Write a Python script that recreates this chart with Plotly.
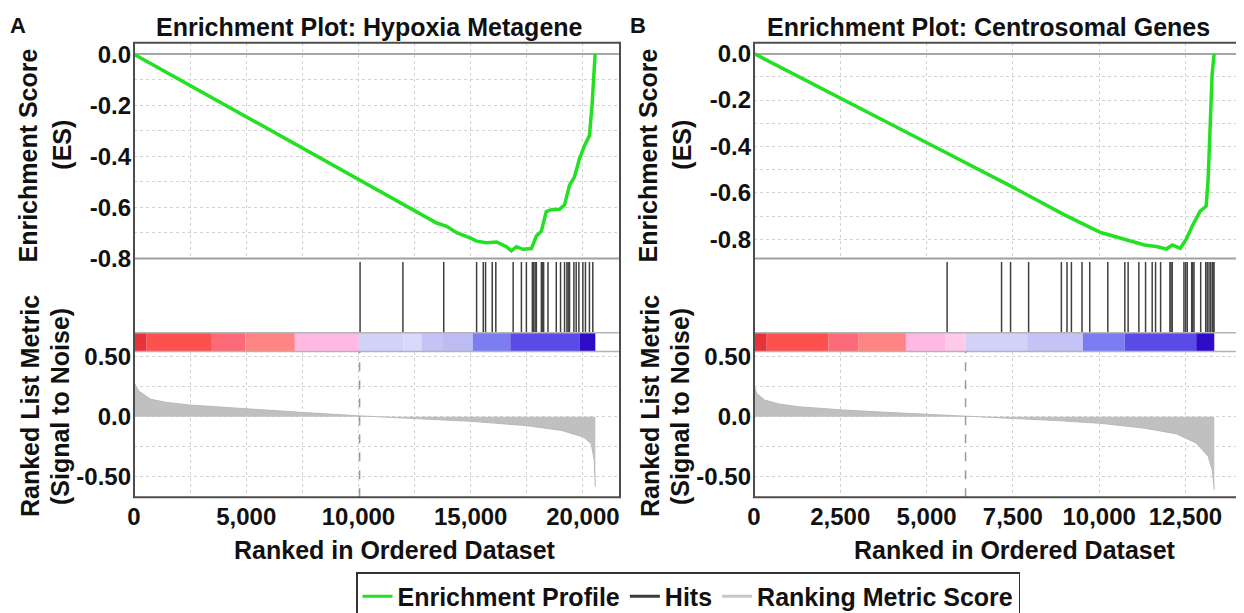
import plotly.graph_objects as go

W, H = 1244, 613

# ---------------- Data: panel A (Hypoxia Metagene) ----------------
es_rank_A = [0, 5000, 10000, 12000, 13487, 13931, 14374, 14966, 15262, 15706, 16149, 16593,
             16815, 17036, 17334, 17702, 17924, 18146, 18367, 18589, 18958, 19180, 19401,
             19623, 19845, 20067, 20288, 20408, 20466, 20541]
es_val_A = [0.0, -0.245, -0.49, -0.588, -0.661, -0.674, -0.699, -0.719, -0.732, -0.738, -0.735,
            -0.754, -0.770, -0.754, -0.764, -0.761, -0.712, -0.693, -0.616, -0.609, -0.607,
            -0.590, -0.513, -0.480, -0.410, -0.358, -0.319, -0.197, -0.081, 0.0]
hits_A = [10071, 11979, 13798, 15262, 15559, 15661, 15958, 16118, 16890, 17258, 17480, 17746,
          17804, 17870, 17924, 18146, 18200, 18248, 18443, 18811, 19002, 19180, 19286, 19340,
          19401, 19596, 19698, 19818, 19996, 20111, 20288, 20439]
metric_rank_A = [0, 211, 739, 1444, 2500, 4965, 7430, 9894, 12535, 15000, 17465, 19049, 20018,
                 20370, 20500, 20550]
metric_val_A = [0.285, 0.215, 0.146, 0.119, 0.097, 0.064, 0.036, 0.008, -0.019, -0.039, -0.075,
                -0.116, -0.171, -0.227, -0.365, -0.586]
bar_edges_A = [0, 563, 3468, 4965, 7165, 10018, 12007, 12799, 13768, 15088, 16761, 19842, 20550]
bar_colors_A = ['#e8323c', '#ff5050', '#ff6a78', '#ff8484', '#ffb9e2', '#d2d2f9', '#d9d9fb',
                '#c3c3f6', '#bcbcf3', '#7d7df2', '#5a4ae8', '#2c0cc8']
zero_cross_A = 10050

# ---------------- Data: panel B (Centrosomal Genes) ----------------
es_rank_B = [0, 2500, 5035, 7512, 9009, 10046, 11313, 11659, 11947, 12120, 12350, 12523, 12696,
             12926, 13099, 13157, 13214, 13272, 13330]
es_val_B = [0.0, -0.19, -0.386, -0.576, -0.695, -0.770, -0.824, -0.830, -0.841, -0.824, -0.838,
            -0.799, -0.742, -0.678, -0.657, -0.541, -0.303, -0.091, 0.0]
hits_B = [5595, 7172, 7433, 7956, 8905, 9068, 9196, 9503, 9727, 10250, 10743, 10839, 11150, 11344,
          11536, 11634, 11780, 12050, 12080, 12117, 12456, 12505, 12552, 12680, 12710, 12747,
          12941, 13087, 13130, 13182, 13230, 13278, 13300, 13328]
metric_rank_B = [0, 81, 311, 714, 1290, 2558, 3825, 5035, 6129, 7512, 8779, 10046, 11313, 12235,
                 12811, 13157, 13272, 13335]
metric_val_B = [0.264, 0.194, 0.139, 0.106, 0.083, 0.056, 0.036, 0.019, 0.003, -0.014, -0.033,
                -0.056, -0.097, -0.144, -0.222, -0.333, -0.444, -0.611]
bar_edges_B = [0, 369, 2154, 3018, 4401, 5553, 6129, 7915, 9528, 10737, 12811, 13335]
bar_colors_B = ['#e8323c', '#ff5050', '#ff6a78', '#ff8484', '#ffb9e2', '#ffc9ea', '#d2d2f9',
                '#c3c3f6', '#7b7bf2', '#5a4ae8', '#2c0cc8']
zero_cross_B = 6129

# ---------------- Axis labels ----------------
es_ticks = [0.0, -0.2, -0.4, -0.6, -0.8]
es_ticktext = ['0.0', '-0.2', '-0.4', '-0.6', '-0.8']
metric_ticks = [0.5, 0.0, -0.5]
metric_ticktext = ['0.50', '0.0', '-0.50']
x_ticks_A = [0, 5000, 10000, 15000, 20000]
x_ticktext_A = ['0', '5,000', '10,000', '15,000', '20,000']
x_ticks_B = [0, 2500, 5000, 7500, 10000, 12500]
x_ticktext_B = ['0', '2,500', '5,000', '7,500', '10,000', '12,500']
titles = ['Enrichment Plot: Hypoxia Metagene', 'Enrichment Plot: Centrosomal Genes']
panel_letters = ['A', 'B']

GREEN = '#22e022'
HITC = '#404040'
GRID = '#d2d2d2'
FONT = 'Liberation Sans, Arial, sans-serif'
TXT = '#111111'


def py(p):
    return 1 - p / H


def px(p):
    return p / W


# layout geometry (pixels)
panel_left = [126, 746]
panel_right = [612, 1232]
ES_TOP, ES_BOT = 35, 253
HIT_BOT = 328
CB_BOT = 347
MET_BOT = 494

fig = go.Figure()
layout = dict(
    width=W, height=H,
    margin=dict(l=0, r=0, t=0, b=0),
    paper_bgcolor='white', plot_bgcolor='white',
    font=dict(family=FONT, color=TXT),
    showlegend=True,
    shapes=[], annotations=[],
)

panels = [
    dict(es_r=es_rank_A, es_v=es_val_A, hits=hits_A, mr=metric_rank_A, mv=metric_val_A,
         edges=bar_edges_A, colors=bar_colors_A, cross=zero_cross_A, xmax=21650, esmin=-0.8,
         esmax=0.045, xt=x_ticks_A, xtt=x_ticktext_A, minor=2500),
    dict(es_r=es_rank_B, es_v=es_val_B, hits=hits_B, mr=metric_rank_B, mv=metric_val_B,
         edges=bar_edges_B, colors=bar_colors_B, cross=zero_cross_B, xmax=14080, esmin=-0.882,
         esmax=0.047, xt=x_ticks_B, xtt=x_ticktext_B, minor=2500),
]

for i, p in enumerate(panels):
    base = i * 4
    n_es, n_hit, n_cb, n_met = base + 1, base + 2, base + 3, base + 4
    xdom = [px(panel_left[i]), px(panel_right[i])]
    ydoms = {
        n_es: [py(ES_BOT), py(ES_TOP)],
        n_hit: [py(HIT_BOT), py(ES_BOT)],
        n_cb: [py(CB_BOT), py(HIT_BOT)],
        n_met: [py(MET_BOT), py(CB_BOT)],
    }
    for n in (n_es, n_hit, n_cb, n_met):
        xa = dict(domain=xdom, anchor='y%d' % n, range=[0, p['xmax']], showline=False,
                  zeroline=False, showticklabels=False, ticks='', automargin=False,
                  showgrid=False, fixedrange=True)
        ya = dict(domain=ydoms[n], anchor='x%d' % n, showline=False, zeroline=False,
                  showticklabels=False, ticks='', automargin=False, showgrid=False,
                  fixedrange=True)
        if n in (n_es, n_met):
            xa.update(showgrid=True, gridcolor=GRID, griddash='dot', gridwidth=1,
                      tick0=0, dtick=2500)
        layout['xaxis%d' % n] = xa
        layout['yaxis%d' % n] = ya

    # ES axis
    layout['yaxis%d' % n_es].update(
        range=[p['esmin'], p['esmax']], tickmode='array', tickvals=es_ticks,
        ticktext=es_ticktext, showticklabels=True, showgrid=True, gridcolor=GRID,
        griddash='dot', zeroline=True, zerolinecolor='#a6a6a6', zerolinewidth=2,
        tickfont=dict(size=24, weight='bold', family=FONT, color=TXT), ticklabelstandoff=2,
        minor=dict(tick0=0, dtick=0.1, showgrid=True, gridcolor=GRID, griddash='dot'))
    # hits and colour bar
    layout['yaxis%d' % n_hit].update(range=[0, 1.05])
    layout['yaxis%d' % n_cb].update(range=[-0.5, 0.5])
    # metric axis
    layout['yaxis%d' % n_met].update(
        range=[-0.675, 0.545], tickmode='array', tickvals=metric_ticks,
        ticktext=metric_ticktext, showticklabels=True, showgrid=True, gridcolor=GRID,
        griddash='dot', tickfont=dict(size=24, weight='bold', family=FONT, color=TXT),
        ticklabelstandoff=2,
        minor=dict(tick0=0, dtick=0.25, showgrid=True, gridcolor=GRID, griddash='dot'))
    layout['xaxis%d' % n_met].update(
        tickmode='array', tickvals=p['xt'], ticktext=p['xtt'], showticklabels=True,
        tickfont=dict(size=24, weight='bold', family=FONT, color=TXT), ticklabelstandoff=3,
        showgrid=True,
        minor=dict(tick0=0, dtick=p['minor'], showgrid=True, gridcolor=GRID, griddash='dot'))

    # traces
    fig.add_trace(go.Scatter(x=p['mr'], y=p['mv'], mode='lines', fill='tozeroy',
                             fillcolor='#c0c0c0', line=dict(color='#b8b8b8', width=1),
                             xaxis='x%d' % n_met, yaxis='y%d' % n_met, showlegend=False,
                             hoverinfo='skip'))
    hx, hy = [], []
    for h in p['hits']:
        hx += [h, h, None]
        hy += [0, 1, None]
    fig.add_trace(go.Scatter(x=hx, y=hy, mode='lines', line=dict(color=HITC, width=1.5),
                             xaxis='x%d' % n_hit, yaxis='y%d' % n_hit, showlegend=False,
                             hoverinfo='skip'))
    starts = p['edges'][:-1]
    widths = [b - a for a, b in zip(p['edges'][:-1], p['edges'][1:])]
    fig.add_trace(go.Bar(orientation='h', y=[0] * len(widths), x=widths, base=starts,
                         width=1, marker=dict(color=p['colors'], line=dict(width=0)),
                         xaxis='x%d' % n_cb, yaxis='y%d' % n_cb, showlegend=False,
                         hoverinfo='skip'))
    fig.add_trace(go.Scatter(x=p['es_r'], y=p['es_v'], mode='lines',
                             line=dict(color=GREEN, width=3.5),
                             xaxis='x%d' % n_es, yaxis='y%d' % n_es, showlegend=False))

    # frame and separators
    L, R = xdom
    layout['shapes'] += [
        dict(type='line', xref='paper', yref='paper', x0=L, x1=R, y0=py(ES_BOT), y1=py(ES_BOT),
             line=dict(color='#a0a0a0', width=2)),
        dict(type='line', xref='paper', yref='paper', x0=L, x1=R, y0=py(HIT_BOT),
             y1=py(HIT_BOT), line=dict(color='#b4b4b4', width=1.5)),
        dict(type='line', xref='paper', yref='paper', x0=L, x1=R, y0=py(CB_BOT),
             y1=py(CB_BOT), line=dict(color='#b4b4b4', width=1.5)),
        dict(type='line', xref='x%d' % n_met, yref='y%d domain' % n_met, x0=p['cross'],
             x1=p['cross'], y0=0, y1=1, line=dict(color='#9a9a9a', width=1.5, dash='dash')),
        dict(type='rect', xref='paper', yref='paper', x0=L, x1=R, y0=py(MET_BOT),
             y1=py(ES_TOP), line=dict(color='#4d4d4d', width=2)),
    ]

    off = 620 * i
    ann_font = dict(family=FONT, size=25, color=TXT, weight='bold')
    layout['annotations'] += [
        dict(text=panel_letters[i], x=px(10 + off), y=py(18), xref='paper', yref='paper',
             showarrow=False, xanchor='center', yanchor='middle',
             font=dict(family=FONT, size=22, color=TXT, weight='bold')),
        dict(text=titles[i], x=px(361 + off), y=py(19), xref='paper', yref='paper',
             showarrow=False, xanchor='center', yanchor='middle',
             font=dict(family=FONT, size=25, color=TXT, weight='bold')),
        dict(text='Enrichment Score', x=px(20 + off), y=py(149), xref='paper', yref='paper',
             showarrow=False, textangle=-90, xanchor='center', yanchor='middle', font=ann_font),
        dict(text='(ES)', x=px(54 + off), y=py(138), xref='paper', yref='paper',
             showarrow=False, textangle=-90, xanchor='center', yanchor='middle', font=ann_font),
        dict(text='Ranked List Metric', x=px(22 + off), y=py(402), xref='paper', yref='paper',
             showarrow=False, textangle=-90, xanchor='center', yanchor='middle', font=ann_font),
        dict(text='(Signal to Noise)', x=px(52 + off), y=py(403), xref='paper', yref='paper',
             showarrow=False, textangle=-90, xanchor='center', yanchor='middle', font=ann_font),
        dict(text='Ranked in Ordered Dataset', x=px(387 + off), y=py(547), xref='paper',
             yref='paper', showarrow=False, xanchor='center', yanchor='middle', font=ann_font),
    ]

# legend-only entries
legend_items = [('Enrichment Profile', GREEN), ('Hits', '#3a3a3a'),
                ('Ranking Metric Score', '#c8c8c8')]
for name, col in legend_items:
    fig.add_trace(go.Scatter(x=[None], y=[None], mode='lines', name=name,
                             line=dict(color=col, width=3), xaxis='x1', yaxis='y1'))

layout['legend'] = dict(orientation='h', x=px(348), y=py(570), xanchor='left', yanchor='top',
                        bordercolor='#333333', borderwidth=1.5, bgcolor='white',
                        font=dict(family=FONT, size=25, color=TXT, weight='bold'),
                        itemwidth=30, traceorder='normal')

fig.update_layout(**layout)
fig.write_html('out.html')
